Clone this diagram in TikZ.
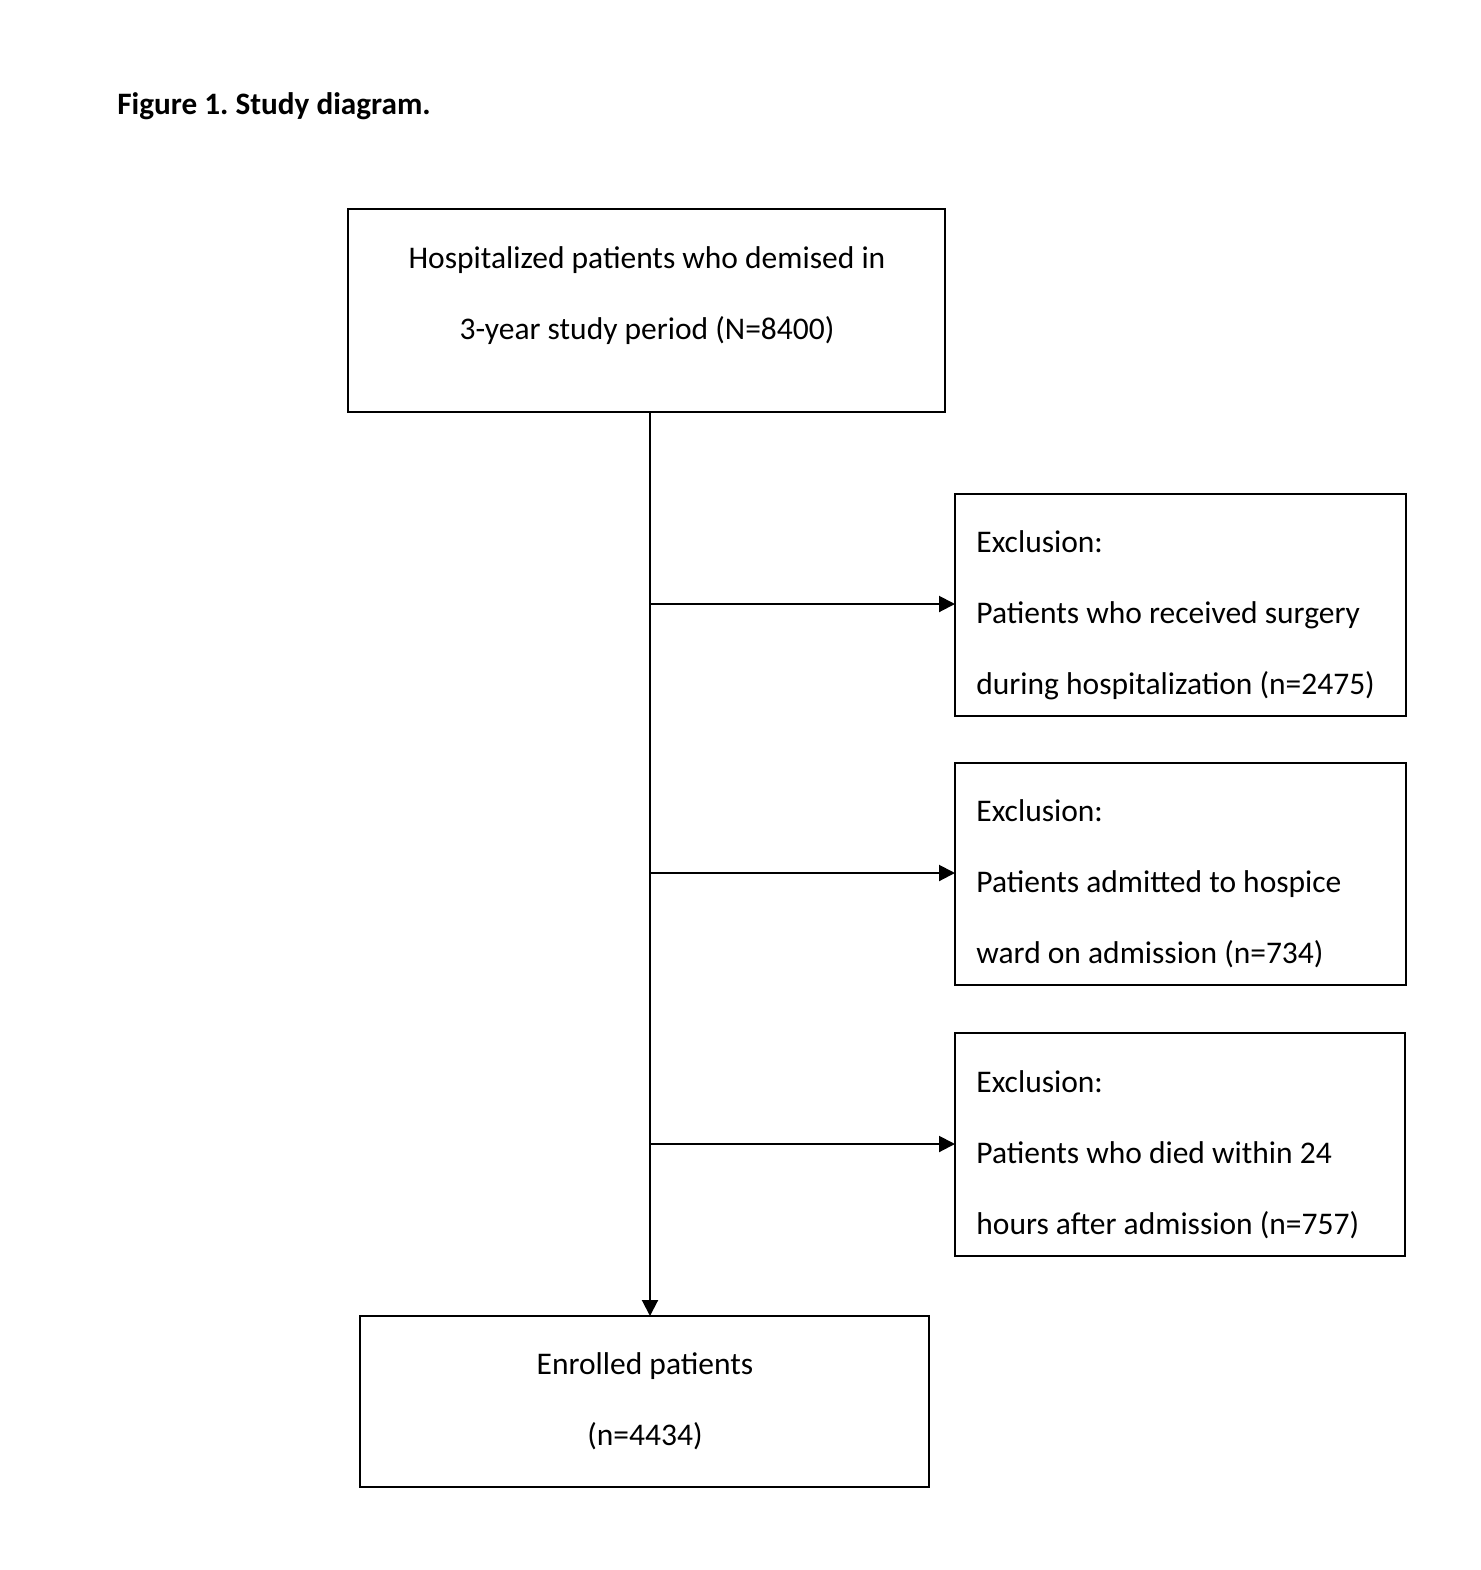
\documentclass[tikz,border=0pt]{standalone}
\usepackage{fontspec}
\setmainfont{Carlito}
\usetikzlibrary{arrows.meta}
\frenchspacing
\begin{document}
\begin{tikzpicture}[x=0.5pt,y=-0.5pt,
  box/.style={draw,line width=1pt},
  txt/.style={inner sep=0pt,font=\fontsize{15.75pt}{18pt}\selectfont},
  conn/.style={line width=1pt,-{Triangle[length=8pt,width=8pt]}}]
\useasboundingbox (0,0) rectangle (1480,1570);
\node[anchor=mid west,inner sep=0pt,font=\fontsize{15.6pt}{18pt}\selectfont\bfseries] (title) at (117,110) {Figure 1. Study diagram.};
% top box
\draw[box] (348,209) rectangle (945,412);
\coordinate (topb) at (650,412);
\node[txt,anchor=mid] (t1) at (647,264) {Hospitalized patients who demised in};
\node[txt,anchor=mid] (t2) at (647,335) {3-year study period (N=8400)};
% exclusion 1
\draw[box] (955,494) rectangle (1406,716);
\coordinate (e1) at (955,604);
\node[txt,anchor=mid west] (a1) at (976,548) {Exclusion:};
\node[txt,anchor=mid west] (a2) at (976,619) {Patients who received surgery};
\node[txt,anchor=mid west] (a3) at (976,690) {during hospitalization (n=2475)};
% exclusion 2
\draw[box] (955,763) rectangle (1406,985);
\coordinate (e2) at (955,873);
\node[txt,anchor=mid west] (b1) at (976,817) {Exclusion:};
\node[txt,anchor=mid west] (b2) at (976,888) {Patients admitted to hospice};
\node[txt,anchor=mid west] (b3) at (976,959) {ward on admission (n=734)};
% exclusion 3
\draw[box] (955,1033) rectangle (1405,1256);
\coordinate (e3) at (955,1144);
\node[txt,anchor=mid west] (c1) at (976,1088) {Exclusion:};
\node[txt,anchor=mid west] (c2) at (976,1159) {Patients who died within 24};
\node[txt,anchor=mid west] (c3) at (976,1230) {hours after admission (n=757)};
% bottom box
\draw[box] (360,1316) rectangle (929,1487);
\coordinate (botb) at (650,1316);
\node[txt,anchor=mid] (d1) at (645,1370) {Enrolled patients};
\node[txt,anchor=mid] (d2) at (645,1441) {(n=4434)};
% connectors
\coordinate (j1) at (650,604);
\coordinate (j2) at (650,873);
\coordinate (j3) at (650,1144);
\draw[conn] (topb) -- (botb);
\draw[conn] (j1) -- (e1);
\draw[conn] (j2) -- (e2);
\draw[conn] (j3) -- (e3);
\end{tikzpicture}
\end{document}
